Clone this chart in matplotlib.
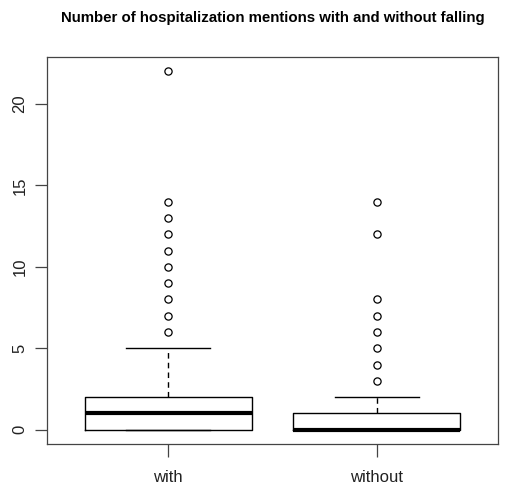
import matplotlib
matplotlib.use("Agg")
import matplotlib.pyplot as plt

plt.rcParams['font.family'] = ['Liberation Sans', 'DejaVu Sans']

groups = ["with", "without"]
# five-number summaries (lower whisker, Q1, median, Q3, upper whisker)
whislo = [0, 0]
q1 = [0, 0]
med = [1, 0]
q3 = [2, 1]
whishi = [5, 2]
# points beyond the whiskers
fliers_with = [6, 7, 8, 9, 10, 11, 12, 13, 14, 22]
fliers_without = [3, 4, 5, 6, 7, 8, 12, 14]
y_ticks = [0, 5, 10, 15, 20]

stats = []
for i, name in enumerate(groups):
    stats.append(dict(label=name, whislo=whislo[i], q1=q1[i], med=med[i],
                      q3=q3[i], whishi=whishi[i],
                      fliers=[fliers_with, fliers_without][i]))

fig = plt.figure(figsize=(5.05, 4.91), dpi=100)
ax = fig.add_axes([47/505, 47/491, 451/505, 387/491])

ax.bxp(stats, positions=[1, 2], widths=0.8,
       boxprops=dict(color='black', linewidth=1.0),
       medianprops=dict(color='black', linewidth=3.0, solid_capstyle='butt'),
       whiskerprops=dict(color='black', linewidth=1.0, linestyle=(0, (4, 3))),
       capprops=dict(color='black', linewidth=1.0),
       capwidths=0.4,
       flierprops=dict(marker='o', markerfacecolor='none', markeredgecolor='black',
                       markersize=5.2, markeredgewidth=0.9))

ax.set_xlim(0.42, 2.58)
ax.set_ylim(-0.88, 22.88)
ax.set_yticks(y_ticks)
ax.set_yticklabels([str(t) for t in y_ticks], rotation=90, va='center')
ax.set_xticks([1, 2])
ax.set_xticklabels(groups)
ax.tick_params(axis='both', length=9, width=0.9, color='#444444', labelsize=12,
               labelcolor='#222222')
ax.tick_params(axis='x', pad=10)
ax.tick_params(axis='y', pad=5)
for s in ax.spines.values():
    s.set_color('#444444')
    s.set_linewidth(0.9)

# title centred over the plotting region
fig.text((47 + 451 / 2) / 505, 1 - 18/491,
         "Number of hospitalization mentions with and without falling",
         ha='center', va='center', fontsize=10.8, fontweight='bold')

fig.savefig("out.png", dpi=100)
